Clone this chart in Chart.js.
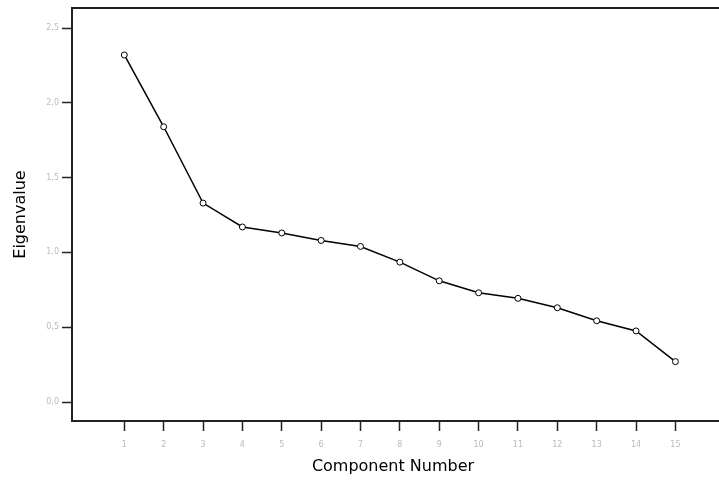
<!DOCTYPE html>
<html>
<head>
<meta charset="utf-8">
<script src="https://cdn.jsdelivr.net/npm/chart.js@4.4.1/dist/chart.umd.min.js"></script>
<style>
html,body{margin:0;padding:0;background:#fff;}
#wrap{width:719px;height:481px;}
</style>
</head>
<body>
<div id="wrap"><canvas id="c" width="719" height="481"></canvas></div>
<script>
const components = [1,2,3,4,5,6,7,8,9,10,11,12,13,14,15];
const eigenvalues = [2.32,1.84,1.33,1.17,1.13,1.08,1.04,0.935,0.81,0.73,0.693,0.63,0.543,0.475,0.27];
const yTicks = [0,0.5,1.0,1.5,2.0,2.5];
const yTickLabels = ['0,0','0,5','1,0','1,5','2,0','2,5'];

const frameLines = {
  id:'frameLines',
  afterDraw(chart){
    const {ctx, chartArea} = chart;
    const yb = Math.round(chartArea.bottom);
    const yt = Math.round(chartArea.top);
    ctx.save();
    ctx.strokeStyle = '#222';
    ctx.lineWidth = 2;
    ctx.beginPath();
    ctx.moveTo(chartArea.left - 1, yt);
    ctx.lineTo(chart.width, yt);
    ctx.moveTo(chartArea.left - 1, yb);
    ctx.lineTo(chart.width, yb);
    ctx.stroke();
    ctx.restore();
  }
};

new Chart(document.getElementById('c'), {
  type:'line',
  data:{
    datasets:[{
      data: components.map((c,i)=>({x:c,y:eigenvalues[i]})),
      borderColor:'#000',
      borderWidth:1.5,
      pointRadius:3,
      pointBorderWidth:1,
      pointBackgroundColor:'#fff',
      pointBorderColor:'#000',
      tension:0
    }]
  },
  options:{
    responsive:false,
    animation:false,
    layout:{padding:{top:8,left:0,right:0,bottom:0}},
    plugins:{legend:{display:false},tooltip:{enabled:false}},
    scales:{
      x:{
        type:'linear',
        min:-0.329,
        max:15.98,
        afterBuildTicks(axis){ axis.ticks = components.map(v=>({value:v})); },
        afterFit(axis){ axis.height = 60; },
        ticks:{
          color:'#bbb',
          font:{family:'DejaVu Sans',size:8},
          padding:9,
          maxRotation:0,
          autoSkip:false,
          callback:(v)=>String(v)
        },
        grid:{drawOnChartArea:false,tickLength:10,color:'#222',tickWidth:1.5},
        border:{display:false},
        title:{display:true,text:'Component Number',color:'#000',font:{family:'DejaVu Sans',size:16},padding:{top:4,bottom:5}}
      },
      y:{
        min:-0.127,
        max:2.634,
        afterBuildTicks(axis){ axis.ticks = yTicks.map(v=>({value:v})); },
        afterFit(axis){ axis.width = 72; },
        ticks:{
          color:'#bbb',
          font:{family:'DejaVu Sans',size:8},
          padding:3,
          autoSkip:false,
          callback:(v)=>{const i=yTicks.indexOf(v);return i>=0?yTickLabels[i]:'';}
        },
        grid:{drawOnChartArea:false,tickLength:10,color:'#222',tickWidth:1.5},
        border:{display:true,color:'#222',width:2},
        title:{display:true,text:'Eigenvalue',color:'#000',font:{family:'DejaVu Sans',size:16},padding:{top:11,bottom:0}}
      }
    }
  },
  plugins:[frameLines]
});
</script>
</body>
</html>
